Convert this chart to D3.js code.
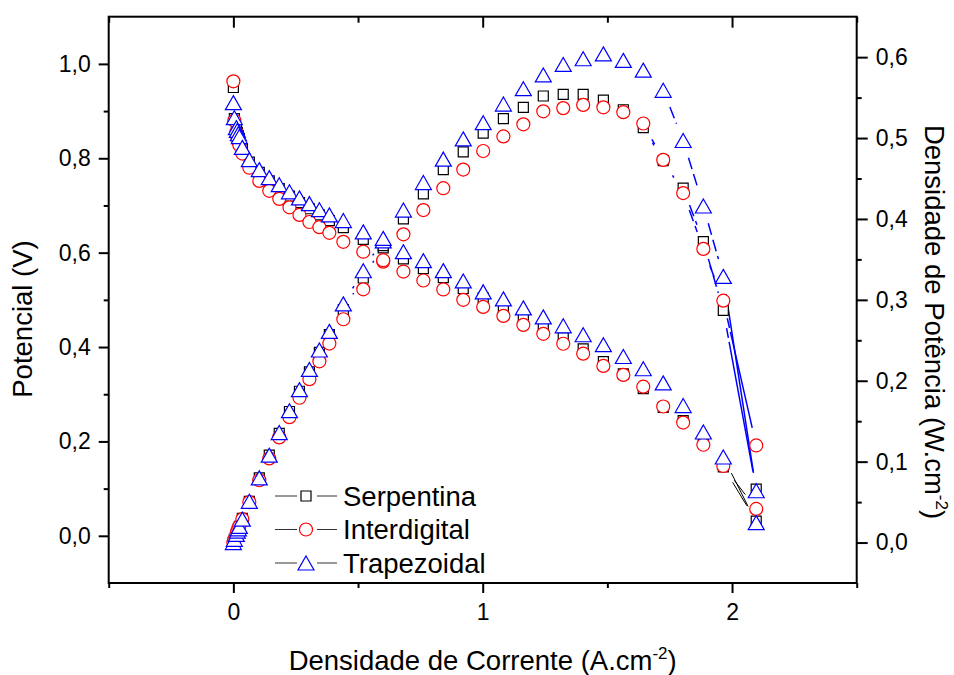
<!DOCTYPE html>
<html>
<head>
<meta charset="utf-8">
<script src="https://cdn.jsdelivr.net/npm/d3@7"></script>
<style>
  body { margin: 0; background: #fff; }
  text { font-family: "Liberation Sans", Arial, sans-serif; }
</style>
</head>
<body>
<script>
// // DATA ////////////////////////////////////////////////////////////////////////

// current density (A.cm-2)
const current = [0, 0.004, 0.012, 0.016, 0.020, 0.024, 0.036, 0.064, 0.104, 0.144,
  0.184, 0.225, 0.265, 0.305, 0.345, 0.385, 0.441, 0.521, 0.601, 0.682,
  0.762, 0.842, 0.922, 1.002, 1.083, 1.163, 1.243, 1.323, 1.403, 1.484,
  1.564, 1.644, 1.724, 1.804, 1.885, 1.965, 2.097];

// potential (V)
const vSerpentina = [0.950, 0.884, 0.862, 0.855, 0.848, 0.842, 0.820, 0.792, 0.770, 0.752,
  0.736, 0.720, 0.706, 0.693, 0.680, 0.668, 0.653, 0.628, 0.610, 0.587,
  0.566, 0.547, 0.524, 0.504, 0.483, 0.464, 0.445, 0.420, 0.396, 0.369,
  0.343, 0.312, 0.272, 0.244, 0.197, 0.146, 0.031];
const vInterdigital = [0.963, 0.880, 0.855, 0.845, 0.835, 0.828, 0.810, 0.780, 0.752, 0.731,
  0.714, 0.696, 0.680, 0.665, 0.654, 0.642, 0.623, 0.602, 0.581, 0.560,
  0.541, 0.522, 0.500, 0.485, 0.466, 0.447, 0.428, 0.407, 0.386, 0.360,
  0.341, 0.316, 0.274, 0.240, 0.193, 0.148, 0.057];
const vTrapezoidal = [0.918, 0.886, 0.865, 0.859, 0.852, 0.846, 0.823, 0.797, 0.776, 0.759,
  0.744, 0.729, 0.716, 0.704, 0.691, 0.680, 0.668, 0.644, 0.625, 0.602,
  0.583, 0.562, 0.540, 0.517, 0.502, 0.483, 0.464, 0.445, 0.426, 0.405,
  0.380, 0.354, 0.324, 0.276, 0.220, 0.167, 0.028];

// power density (W.cm-2)
const pSerpentina = [0.000, 0.004, 0.010, 0.014, 0.017, 0.020, 0.030, 0.051, 0.080, 0.108,
  0.135, 0.162, 0.187, 0.211, 0.235, 0.257, 0.288, 0.327, 0.367, 0.400,
  0.431, 0.461, 0.483, 0.506, 0.524, 0.538, 0.552, 0.554, 0.554, 0.547,
  0.535, 0.513, 0.472, 0.438, 0.372, 0.287, 0.066];
const pInterdigital = [0.000, 0.004, 0.010, 0.014, 0.017, 0.020, 0.029, 0.050, 0.077, 0.104,
  0.130, 0.155, 0.179, 0.202, 0.224, 0.246, 0.276, 0.313, 0.349, 0.381,
  0.411, 0.438, 0.461, 0.484, 0.502, 0.517, 0.533, 0.537, 0.541, 0.538,
  0.532, 0.518, 0.473, 0.432, 0.363, 0.299, 0.120];
const pTrapezoidal = [0.000, 0.004, 0.010, 0.014, 0.017, 0.020, 0.029, 0.051, 0.080, 0.108,
  0.136, 0.163, 0.189, 0.214, 0.238, 0.261, 0.295, 0.336, 0.376, 0.411,
  0.445, 0.474, 0.499, 0.519, 0.542, 0.561, 0.578, 0.591, 0.598, 0.604,
  0.596, 0.584, 0.559, 0.497, 0.416, 0.329, 0.064];

const seriesNames = ["Serpentina", "Interdigital", "Trapezoidal"];

// tick values
const xTicks = [0, 1, 2];
const xMinorTicks = [-0.5, 0.5, 1.5, 2.5];
const leftTicks = [0, 0.2, 0.4, 0.6, 0.8, 1.0];
const leftMinorTicks = [0.1, 0.3, 0.5, 0.7, 0.9];
const rightTicks = [0, 0.1, 0.2, 0.3, 0.4, 0.5, 0.6];
const rightMinorTicks = [0.05, 0.15, 0.25, 0.35, 0.45, 0.55];

// // SET PARAMETERS //////////////////////////////////////////////////////////////

const W = 954, H = 675;
const margin = { top: 16.7, right: 97.3, bottom: 92, left: 108.7 };
const width = W - margin.left - margin.right;
const height = H - margin.top - margin.bottom;
const gap = 18; // lines stop short of the symbols
const titleSize = 27.5;

const styles = [
  { shape: "square", color: "#000000" },
  { shape: "circle", color: "#ff0000" },
  { shape: "triangle", color: "#0000ff" },
];

const comma = d => d3.format(".1f")(d).replace(".", ",");

const svg = d3.select("body").append("svg")
  .attr("width", W)
  .attr("height", H);

const g = svg.append("g")
  .attr("transform", `translate(${margin.left},${margin.top})`);

const x = d3.scaleLinear().domain([-0.5, 2.5]).range([0, width]);
const yL = d3.scaleLinear().domain([-0.1, 1.1]).range([height, 0]);
const yR = d3.scaleLinear().domain([-0.05, 0.65]).range([height, 0]);

// // AXES ////////////////////////////////////////////////////////////////////////

function styleAxis(sel) {
  sel.attr("font-size", 23).attr("font-family", "Liberation Sans, Arial, sans-serif");
  sel.selectAll("line").attr("stroke", "#000").attr("stroke-width", 2);
  sel.selectAll("text").attr("fill", "#000");
  sel.select(".domain").remove();
}

// bottom
g.append("g").attr("transform", `translate(0,${height})`)
  .call(d3.axisBottom(x).tickValues(xTicks).tickFormat(d3.format("d"))
    .tickSize(10).tickPadding(11))
  .call(styleAxis);
g.append("g").attr("transform", `translate(0,${height})`)
  .call(d3.axisBottom(x).tickValues(xMinorTicks).tickFormat("").tickSize(5))
  .call(styleAxis);

// top (ticks point inward)
g.append("g")
  .call(d3.axisTop(x).tickValues(xTicks).tickFormat("").tickSize(-11))
  .call(styleAxis);
g.append("g")
  .call(d3.axisTop(x).tickValues(xMinorTicks).tickFormat("").tickSize(-6))
  .call(styleAxis);

// left
g.append("g")
  .call(d3.axisLeft(yL).tickValues(leftTicks).tickFormat(comma).tickSize(10).tickPadding(8))
  .call(styleAxis);
g.append("g")
  .call(d3.axisLeft(yL).tickValues(leftMinorTicks).tickFormat("").tickSize(5))
  .call(styleAxis);

// right
g.append("g").attr("transform", `translate(${width},0)`)
  .call(d3.axisRight(yR).tickValues(rightTicks).tickFormat(comma).tickSize(11).tickPadding(8))
  .call(styleAxis);
g.append("g").attr("transform", `translate(${width},0)`)
  .call(d3.axisRight(yR).tickValues(rightMinorTicks).tickFormat("").tickSize(5))
  .call(styleAxis);

// frame
g.append("rect")
  .attr("width", width).attr("height", height)
  .attr("fill", "none").attr("stroke", "#000").attr("stroke-width", 2);

// // TITLES //////////////////////////////////////////////////////////////////////

const xTitle = svg.append("text")
  .attr("x", margin.left + width / 2).attr("y", 670)
  .attr("text-anchor", "middle").attr("font-size", titleSize);
xTitle.append("tspan").text("Densidade de Corrente (A.cm");
xTitle.append("tspan").attr("font-size", 17).attr("dy", -11).text("-2");
xTitle.append("tspan").attr("dy", 11).text(")");

svg.append("text")
  .attr("transform", "translate(32,319) rotate(-90)")
  .attr("text-anchor", "middle").attr("font-size", titleSize)
  .text("Potencial (V)");

const rTitle = svg.append("text")
  .attr("transform", "translate(925,322) rotate(90)")
  .attr("text-anchor", "middle").attr("font-size", titleSize);
rTitle.append("tspan").text("Densidade de Potência (W.cm");
rTitle.append("tspan").attr("font-size", 17).attr("dy", -11).text("-2");
rTitle.append("tspan").attr("dy", 11).text(")");

// // MARKS ///////////////////////////////////////////////////////////////////////

function symbolPath(shape) {
  if (shape === "square") return "M-5,-5H5V5H-5Z";
  if (shape === "circle") return "M-6.5,0A6.5,6.5 0 1,0 6.5,0A6.5,6.5 0 1,0 -6.5,0Z";
  return "M0,-7L8,7H-8Z";
}

// segments between neighbouring points, cut back near each symbol
function segments(pts) {
  const out = [];
  for (let i = 0; i < pts.length - 1; i++) {
    const [x1, y1] = pts[i], [x2, y2] = pts[i + 1];
    const len = Math.hypot(x2 - x1, y2 - y1);
    if (len <= 2 * gap) continue;
    const ux = (x2 - x1) / len, uy = (y2 - y1) / len;
    out.push({ x1: x1 + ux * gap, y1: y1 + uy * gap, x2: x2 - ux * gap, y2: y2 - uy * gap, last: i === pts.length - 2 });
  }
  return out;
}

const vSeries = [vSerpentina, vInterdigital, vTrapezoidal];
const pSeries = [pSerpentina, pInterdigital, pTrapezoidal];

const lines = g.append("g");
vSeries.forEach(vals => {
  const pts = current.map((c, i) => [x(c), yL(vals[i])]);
  lines.selectAll(null).data(segments(pts)).enter().append("line")
    .attr("x1", d => d.x1).attr("y1", d => d.y1)
    .attr("x2", d => d.x2).attr("y2", d => d.y2)
    .attr("stroke", "#000").attr("stroke-width", 1);
});
pSeries.forEach(vals => {
  const pts = current.map((c, i) => [x(c), yR(vals[i])]);
  lines.selectAll(null).data(segments(pts)).enter().append("line")
    .attr("x1", d => d.x1).attr("y1", d => d.y1)
    .attr("x2", d => d.x2).attr("y2", d => d.y2)
    .attr("stroke", "#0000ff").attr("stroke-width", 1.5)
    .attr("stroke-dasharray", d => d.last ? "10,4,200" : "12,5");
});

styles.forEach((s, k) => {
  const pts = current.map((c, i) => [x(c), yL(vSeries[k][i])])
    .concat(current.map((c, i) => [x(c), yR(pSeries[k][i])]));
  g.append("g").selectAll("path").data(pts).enter().append("path")
    .attr("d", symbolPath(s.shape))
    .attr("transform", d => `translate(${d[0]},${d[1]})`)
    .attr("fill", "#fff")
    .attr("stroke", s.color).attr("stroke-width", 1.2);
});

// // LEGEND //////////////////////////////////////////////////////////////////////

const legend = svg.append("g").attr("transform", "translate(275,496)");
const rows = legend.selectAll("g").data(seriesNames).enter().append("g")
  .attr("transform", (d, i) => `translate(0,${i * 33.5})`);
rows.append("line").attr("x1", 0).attr("x2", 22).attr("stroke", "#333").attr("stroke-width", 1);
rows.append("line").attr("x1", 42).attr("x2", 62).attr("stroke", "#333").attr("stroke-width", 1);
rows.append("path")
  .attr("d", (d, i) => symbolPath(styles[i].shape))
  .attr("transform", "translate(31,0)")
  .attr("fill", "#fff")
  .attr("stroke", (d, i) => styles[i].color).attr("stroke-width", 1.2);
rows.append("text")
  .attr("x", 68).attr("y", 9.5)
  .attr("font-size", titleSize)
  .text(d => d);
</script>
</body>
</html>
